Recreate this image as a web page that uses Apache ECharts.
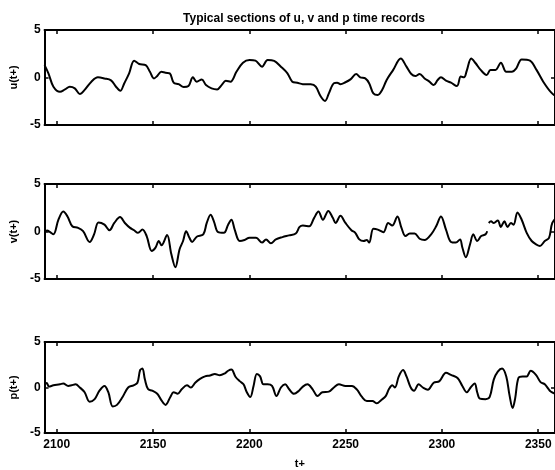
<!DOCTYPE html>
<html>
<head>
<meta charset="utf-8">
<script src="https://cdn.jsdelivr.net/npm/echarts@6/dist/echarts.min.js"></script>
<style>
html,body{margin:0;padding:0;background:#fff;}
#chart{width:555px;height:470px;}
</style>
</head>
<body>
<div id="chart"></div>
<script>
const titleText = 'Typical sections of u, v and p time records';
const xTicks = [2100, 2150, 2200, 2250, 2300, 2350];
const yTicks = [-5, 0, 5];
const yNames = ['u(t+)', 'v(t+)', 'p(t+)'];
const xName = 't+';

const uT = [2093.7,2095.7,2098.3,2101.7,2104.3,2106.8,2109.4,2112.0,2114.5,2118.0,2121.4,2124.8,2128.2,2130.8,2133.0,2135.1,2137.6,2140.2,2142.8,2146.2,2148.4,2150.5,2152.2,2154.3,2156.5,2158.7,2160.7,2163.3,2165.9,2168.4,2170.7,2172.7,2175.3,2177.5,2180.4,2183.3,2185.6,2187.8,2190.2,2193.3,2196.7,2200.1,2203.2,2206.6,2209.5,2212.9,2216.4,2219.8,2222.3,2224.9,2227.8,2231.9,2234.5,2237.1,2239.3,2241.3,2243.9,2245.6,2247.3,2249.9,2252.5,2255.5,2257.6,2260.2,2262.2,2264.4,2266.7,2269.0,2271.3,2274.7,2278.6,2281.6,2284.1,2286.2,2288.4,2291.0,2293.5,2295.7,2297.8,2299.5,2302.1,2304.7,2307.8,2309.8,2311.5,2312.9,2315.2,2317.5,2320.1,2323.2,2325.2,2327.8,2330.6,2333.4,2336.3,2338.6,2341.4,2345.7,2349.1,2352.6,2356.8,2360];
const uVals = [1.3,0.44,-0.97,-1.5,-1.25,-0.97,-1.14,-1.74,-1.3,-0.44,0.02,-0.1,-0.3,-0.97,-1.4,-0.6,0.44,1.77,1.42,1.3,0.6,-0.1,0.16,0.6,0.5,0.44,-0.55,-0.7,-1.0,-0.9,0.02,-0.44,-0.2,-0.8,-1.14,-1.25,-0.8,-0.34,-0.44,0.6,1.56,1.84,1.77,1.14,1.84,1.74,1.14,0.44,-0.44,-0.55,-0.7,-0.72,-0.97,-2.0,-2.47,-1.67,-0.6,-0.55,-0.7,-0.5,-0.2,0.37,0.02,-0.1,-0.6,-1.67,-1.84,-1.3,-0.26,0.8,2.0,1.14,0.37,0.16,0.37,-0.1,-0.44,-0.8,-0.26,0.02,-0.34,-0.55,-0.9,0.1,0.02,0.72,2.0,1.5,0.8,0.26,0.8,0.8,1.56,0.6,0.6,0.97,1.9,1.77,0.8,-0.44,-1.6,-2.1];

const vT = [2093.7,2095.0,2096.6,2098.3,2100.9,2103.4,2105.6,2108.1,2111.1,2113.7,2117.1,2119.4,2121.7,2124.8,2127.4,2129.9,2132.9,2135.4,2138.1,2140.2,2142.2,2144.5,2146.7,2149.3,2151.3,2153.0,2154.4,2157.3,2159.5,2161.6,2163.8,2165.6,2167.2,2168.9,2170.3,2172.7,2176.1,2177.9,2179.9,2181.6,2183.8,2186.8,2189.0,2190.7,2192.4,2195.0,2197.5,2200.1,2203.5,2206.6,2208.7,2211.2,2213.8,2217.2,2220.6,2224.1,2226.1,2227.8,2231.1,2233.6,2235.9,2238.2,2241.0,2243.4,2244.8,2247.3,2249.9,2253.0,2255.0,2257.1,2259.3,2261.0,2262.2,2264.4,2266.7,2269.6,2272.1,2274.2,2276.9,2279.0,2281.1,2283.3,2285.8,2288.4,2291.0,2294.4,2297.0,2299.5,2302.1,2304.7,2307.2,2309.4,2310.6,2312.4,2314.6,2316.3,2318.3,2320.4,2322.6,2323.5,2323.9,2324.3,2325.5,2326.9,2329.0,2330.6,2332.4,2334.1,2335.8,2337.2,2339.2,2341.4,2344.0,2346.6,2348.8,2350.9,2353.4,2355.6,2357.3,2360];
const vVals = [-0.1,0.1,-0.07,-0.3,1.24,2.1,1.58,0.55,0.38,0.03,-1.1,-0.3,0.96,0.72,0.13,0.9,1.52,0.9,0.38,0.13,-0.14,0.2,-0.48,-2.04,-1.69,-1.0,-1.45,-0.38,-2.38,-3.76,-1.86,-1.0,0.03,-0.66,-1.1,-0.55,-0.3,0.9,1.76,1.07,-0.07,-0.14,0.72,1.24,0.2,-1.0,-0.9,-0.66,-0.66,-1.17,-0.83,-1.24,-0.83,-0.59,-0.41,-0.21,0.48,0.62,0.55,1.41,2.1,1.24,2.17,1.41,0.9,1.65,0.9,0.13,-0.14,-0.83,-1.0,-0.9,-1.17,0.28,0.2,-0.07,0.9,0.62,1.58,0.38,-0.48,-0.21,-0.21,-0.76,-0.9,-0.3,0.55,1.58,0.2,-1.1,-1.17,-0.83,-1.69,-2.72,-1.34,-0.3,-1.0,-0.48,-0.3,0.03,null,0.9,1.07,0.9,1.17,0.48,1.07,0.48,0.9,0.72,2.0,1.24,-0.14,-1.0,-1.34,-1.52,-1.0,-0.66,0.9,1.6];

const pT = [2093.7,2094.8,2096.0,2098.3,2101.7,2103.4,2106.0,2107.7,2109.8,2112.0,2114.5,2117.1,2119.7,2122.2,2124.8,2126.8,2129.1,2131.3,2134.2,2137.1,2139.9,2141.9,2143.3,2144.5,2145.8,2147.4,2149.6,2152.2,2154.3,2156.5,2159.0,2160.7,2162.8,2165.0,2167.6,2169.7,2171.9,2174.4,2177.0,2179.6,2182.1,2184.7,2187.3,2189.0,2190.7,2192.9,2195.0,2197.0,2198.7,2200.5,2202.2,2203.9,2205.6,2207.3,2209.5,2211.8,2214.1,2216.4,2218.6,2220.6,2223.2,2225.8,2227.8,2230.2,2232.8,2235.4,2237.9,2241.3,2243.9,2246.5,2249.9,2253.3,2255.9,2258.5,2261.0,2263.9,2266.2,2268.4,2270.8,2272.5,2274.2,2275.6,2277.6,2279.8,2281.6,2283.8,2285.5,2287.9,2290.1,2292.7,2295.7,2298.7,2302.1,2304.7,2308.1,2310.6,2312.9,2314.9,2317.0,2318.3,2319.7,2322.6,2324.8,2326.9,2329.0,2331.2,2333.4,2335.1,2336.7,2338.0,2339.7,2341.9,2344.0,2346.1,2348.8,2351.2,2353.4,2356.0,2357.7,2360];
const pVals = [0.3,0.5,0.1,0.24,0.35,0.45,0.17,0.24,0.35,0,-0.52,-1.56,-1.28,-0.35,0.17,-0.52,-2.08,-1.91,-1.04,0,0.24,0.52,1.91,2.08,0.87,-0.17,-0.35,-0.69,-1.39,-1.91,-1.04,-0.52,-0.69,-0.17,0.24,0,0.52,0.94,1.22,1.32,1.49,1.35,1.56,1.84,1.98,1.15,0.7,0.35,-0.52,-1.04,0.17,1.49,1.22,0.35,0.35,0.17,-0.94,0,0.35,-0.17,-0.69,-0.35,0.1,0.35,-0.17,-0.94,-0.52,-0.45,0,0.35,0.17,0.17,-0.24,-1.04,-1.49,-1.49,-1.74,-1.39,-0.94,-0.17,0.24,0,1.22,1.91,1.22,0,-0.35,0.35,0,-0.24,0.52,0.7,1.63,1.39,1.04,0.17,-0.52,0,0.45,-0.52,-1.22,-1.28,-1.04,0.87,1.74,2.08,1.22,-0.87,-2.26,-1.22,1.04,1.22,1.22,1.84,1.39,0.59,0.35,-0.35,-0.59,-0.8];

const xMin = 2093.7, xMax = 2358.7;
const FONT = 'Liberation Sans';
const tops = [30, 184, 342];
const plotH = 95;
const seriesT = [uT, vT, pT];
const seriesV = [uVals, vVals, pVals];

const grids = [], xAxes = [], yAxes = [], series = [];
for (let i = 0; i < 3; i++) {
  grids.push({left: 40, top: tops[i], width: 517, height: plotH});
  const line = {show: true, onZero: false, lineStyle: {color: '#000', width: 2}};
  const tick = {show: true, inside: true, length: 4, lineStyle: {color: '#000', width: 1.5}};
  xAxes.push({
    type: 'value', gridIndex: i, min: xMin, max: xMax, position: 'bottom',
    axisLine: line,
    axisTick: Object.assign({customValues: xTicks}, tick),
    axisLabel: {show: i === 2, customValues: xTicks, formatter: v => String(v),
      color: '#000', fontFamily: FONT, fontWeight: 'bold', fontSize: 12, margin: 6},
    splitLine: {show: false},
    name: i === 2 ? xName : '', nameLocation: 'middle', nameGap: 25,
    nameTextStyle: {color: '#000', fontFamily: FONT, fontWeight: 'bold', fontSize: 11}
  });
  xAxes.push({
    type: 'value', gridIndex: i, min: xMin, max: xMax, position: 'top',
    axisLine: line,
    axisTick: Object.assign({customValues: xTicks}, tick),
    axisLabel: {show: false}, splitLine: {show: false}
  });
  yAxes.push({
    type: 'value', gridIndex: i, min: -5, max: 5, position: 'left',
    axisLine: line,
    axisTick: Object.assign({customValues: yTicks}, tick),
    axisLabel: {customValues: yTicks, formatter: v => String(v),
      color: '#000', fontFamily: FONT, fontWeight: 'bold', fontSize: 12, margin: 4},
    splitLine: {show: false},
    name: yNames[i], nameLocation: 'middle', nameGap: 17,
    nameTextStyle: {color: '#000', fontFamily: FONT, fontWeight: 'bold', fontSize: 11}
  });
  yAxes.push({
    type: 'value', gridIndex: i, min: -5, max: 5, position: 'right',
    axisLine: line,
    axisTick: Object.assign({customValues: yTicks}, tick),
    axisLabel: {show: false}, splitLine: {show: false}
  });
  series.push({
    type: 'line', xAxisIndex: i * 2, yAxisIndex: i * 2,
    data: seriesT[i].map((t, k) => [t, seriesV[i][k]]),
    showSymbol: false, smooth: 0.35, connectNulls: false,
    lineStyle: {color: '#000', width: 2}, animation: false
  });
}

const chart = echarts.init(document.getElementById('chart'), null, {renderer: 'canvas'});
chart.setOption({
  backgroundColor: '#fff',
  animation: false,
  title: {text: titleText, left: 299, top: 8, textAlign: 'center',
    textStyle: {color: '#000', fontFamily: FONT, fontWeight: 'bold', fontSize: 12}},
  grid: grids, xAxis: xAxes, yAxis: yAxes, series: series
});
</script>
</body>
</html>
